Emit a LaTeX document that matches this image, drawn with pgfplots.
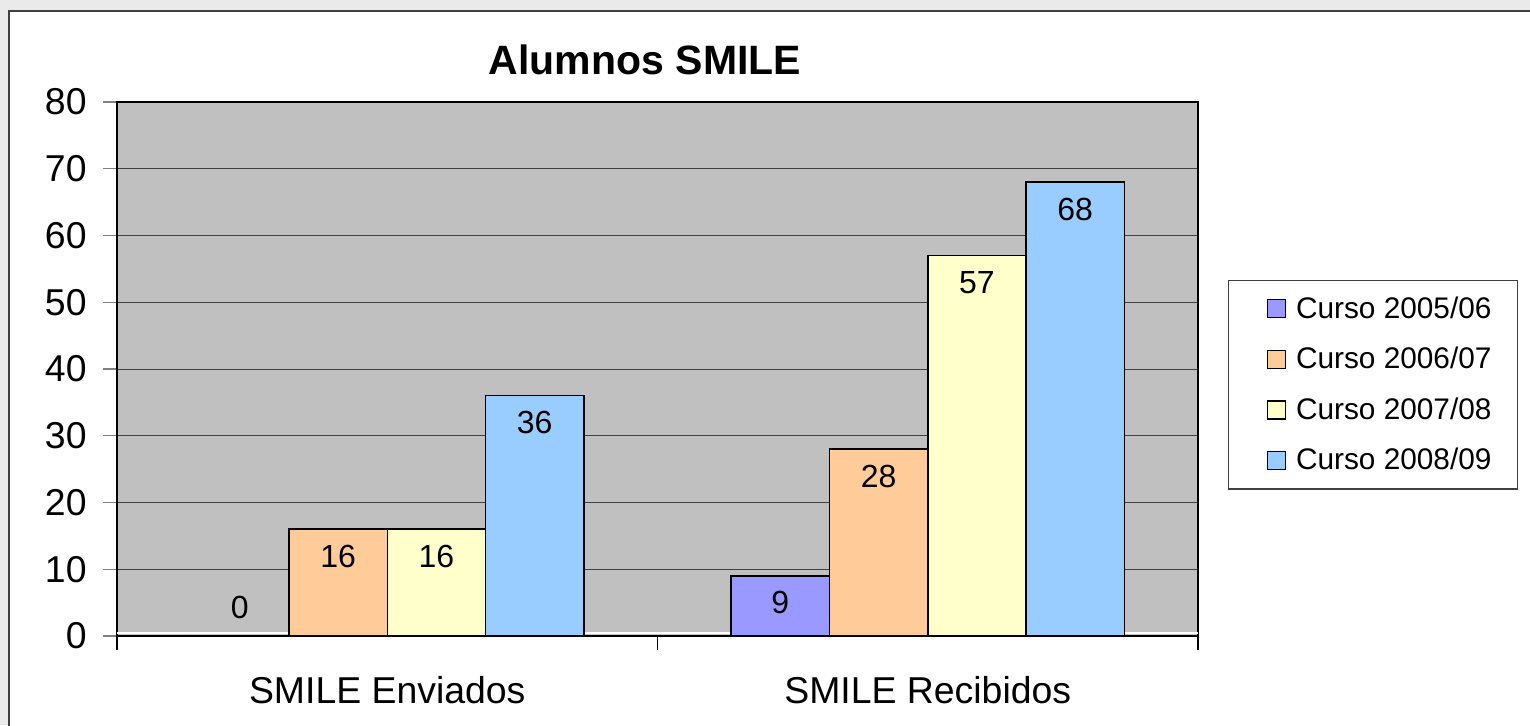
\documentclass[border=0pt]{standalone}
\usepackage{fontspec}
\setmainfont{Liberation Sans}
\usepackage{pgfplots}
\pgfplotsset{compat=1.18}
\definecolor{c1}{HTML}{9999FF}
\definecolor{c2}{HTML}{FFCC99}
\definecolor{c3}{HTML}{FFFFCC}
\definecolor{c4}{HTML}{99CCFF}
\definecolor{plotbg}{HTML}{C0C0C0}
\definecolor{outerbg}{HTML}{EAEAEA}
\definecolor{framec}{HTML}{404040}
\begin{document}
\begin{tikzpicture}[x=0.5pt,y=0.5pt]
\useasboundingbox (0,0) rectangle (1530,725);
\fill[outerbg] (0,0) rectangle (1530,725);
\draw[framec, line width=1pt, fill=white] (8.5,-10) rectangle (1545,714);
\begin{axis}[
  at={(58.5pt,44.5pt)}, anchor=south west,
  scale only axis, width=540.5pt, height=267pt,
  xmin=-0.5, xmax=1.5, ymin=0, ymax=80,
  /pgf/number format/assume math mode=true,
  ytick={0,10,...,80},
  xtick={-0.5,0.5,1.5}, xticklabels={},
  extra x ticks={0,1},
  extra x tick labels={SMILE Enviados, SMILE Recibidos},
  extra x tick style={major tick length=0pt, tick style={draw=none},
     xticklabel style={anchor=center, yshift=-27pt}},
  tick pos=left,
  tick align=outside,
  major tick length=7pt,
  xtick style={black, line width=0.6pt},
  ytick style={gray, line width=0.6pt},
  ymajorgrids, major grid style={black!75, line width=0.5pt},
  axis background/.style={fill=plotbg},
  axis line style={black, line width=1pt},
  tick label style={font=\fontsize{18.7}{20}\selectfont},
  yticklabel style={anchor=east, inner sep=0pt, xshift=-8pt},
  ybar, bar width=0.1818,
  title={Alumnos SMILE},
  title style={font=\bfseries\fontsize{20.5}{24}\selectfont, at={(0.4884,1.0749)}, anchor=center, yshift=-5pt},
  legend cell align=left,
  legend image code/.code={\path (0pt,0pt); \draw[#1,/tikz/.cd,draw=black,line width=0.6pt] (8pt,-4.5pt) rectangle (17pt,4.5pt);},
  legend style={at={(1.0278,0.6667)}, anchor=north west, draw=framec, line width=0.6pt, fill=white,
    font=\fontsize{14.9}{17}\selectfont, row sep=9pt, inner xsep=11pt, inner ysep=6pt,
    /tikz/every odd column/.append style={column sep=3pt}},
  nodes near coords,
  visualization depends on={y \as \rawy},
  nodes near coords style={font=\fontsize{16}{18}\selectfont, black, anchor=center,
     /pgf/number format/assume math mode=true,
     yshift={ifthenelse(\rawy==0,14.5pt,-13.5pt)}},
]
\draw[white, line width=0.6pt] (axis cs:-0.5,0.45) -- (axis cs:1.5,0.45);
\addplot[fill=c1, draw=black, line width=0.75pt, bar shift=-0.2727] coordinates {(0,0) (1,9)};
\addplot[fill=c2, draw=black, line width=0.75pt, bar shift=-0.0909] coordinates {(0,16) (1,28)};
\addplot[fill=c3, draw=black, line width=0.75pt, bar shift=0.0909] coordinates {(0,16) (1,57)};
\addplot[fill=c4, draw=black, line width=0.75pt, bar shift=0.2727] coordinates {(0,36) (1,68)};
\legend{Curso 2005/06, Curso 2006/07, Curso 2007/08, Curso 2008/09}
\end{axis}
\end{tikzpicture}
\end{document}
